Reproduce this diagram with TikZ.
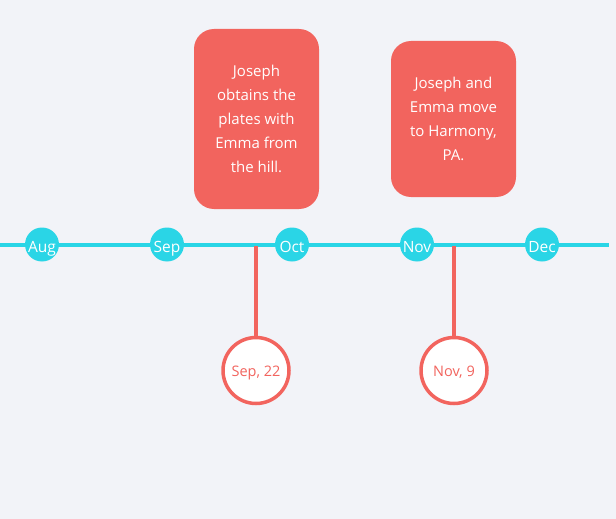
\documentclass[tikz,border=0pt]{standalone}
\usepackage{fontspec}
\setmainfont{Open Sans}
\definecolor{bg}{HTML}{F2F3F8}
\definecolor{cy}{HTML}{2AD5E6}
\definecolor{rd}{HTML}{F2645E}
\begin{document}
\begin{tikzpicture}[x=1pt,y=-1pt,
  month/.style={circle,fill=cy,minimum size=34pt,inner sep=0pt,text=white,text height=15pt,text depth=0pt,font=\fontsize{15.5}{17}\selectfont},
  evbox/.style={rectangle,rounded corners=20pt,fill=rd,text=white,minimum width=125pt,align=center,font=\fontsize{15}{24}\selectfont,inner sep=0pt},
  datec/.style={circle,draw=rd,line width=3.5pt,fill=white,minimum size=66pt,inner sep=0pt,text=rd,text height=11pt,text depth=0pt,font=\fontsize{14.5}{16}\selectfont},
  stem/.style={draw=rd,line width=3.5pt}]
\fill[bg] (0,0) rectangle (616,519);
\useasboundingbox (0,0) rectangle (616,519);
\coordinate (L) at (0,244.5);
\coordinate (R) at (609,244.5);
\draw[cy,line width=4pt] (L) -- (R);
\node[month] (aug) at (42,244.5) {Aug};
\node[month] (sep) at (167,244.5) {Sep};
\node[month] (oct) at (292,244.5) {Oct};
\node[month] (nov) at (417,244.5) {Nov};
\node[month] (dec) at (542,244.5) {Dec};
\coordinate (s1) at (256,246);
\coordinate (s2) at (454,246);
\node[datec] (d1) at (256,370.5) {Sep, 22};
\node[datec] (d2) at (454,370.5) {Nov, 9};
\draw[stem] (s1) -- (d1);
\draw[stem] (s2) -- (d2);
\node[evbox,minimum height=180pt] (b1) at (256.5,119) {Joseph\\obtains the\\plates with\\Emma from\\the hill.};
\node[evbox,minimum height=156pt] (b2) at (453.5,119) {Joseph and\\Emma move\\to Harmony,\\PA.};
\end{tikzpicture}
\end{document}
